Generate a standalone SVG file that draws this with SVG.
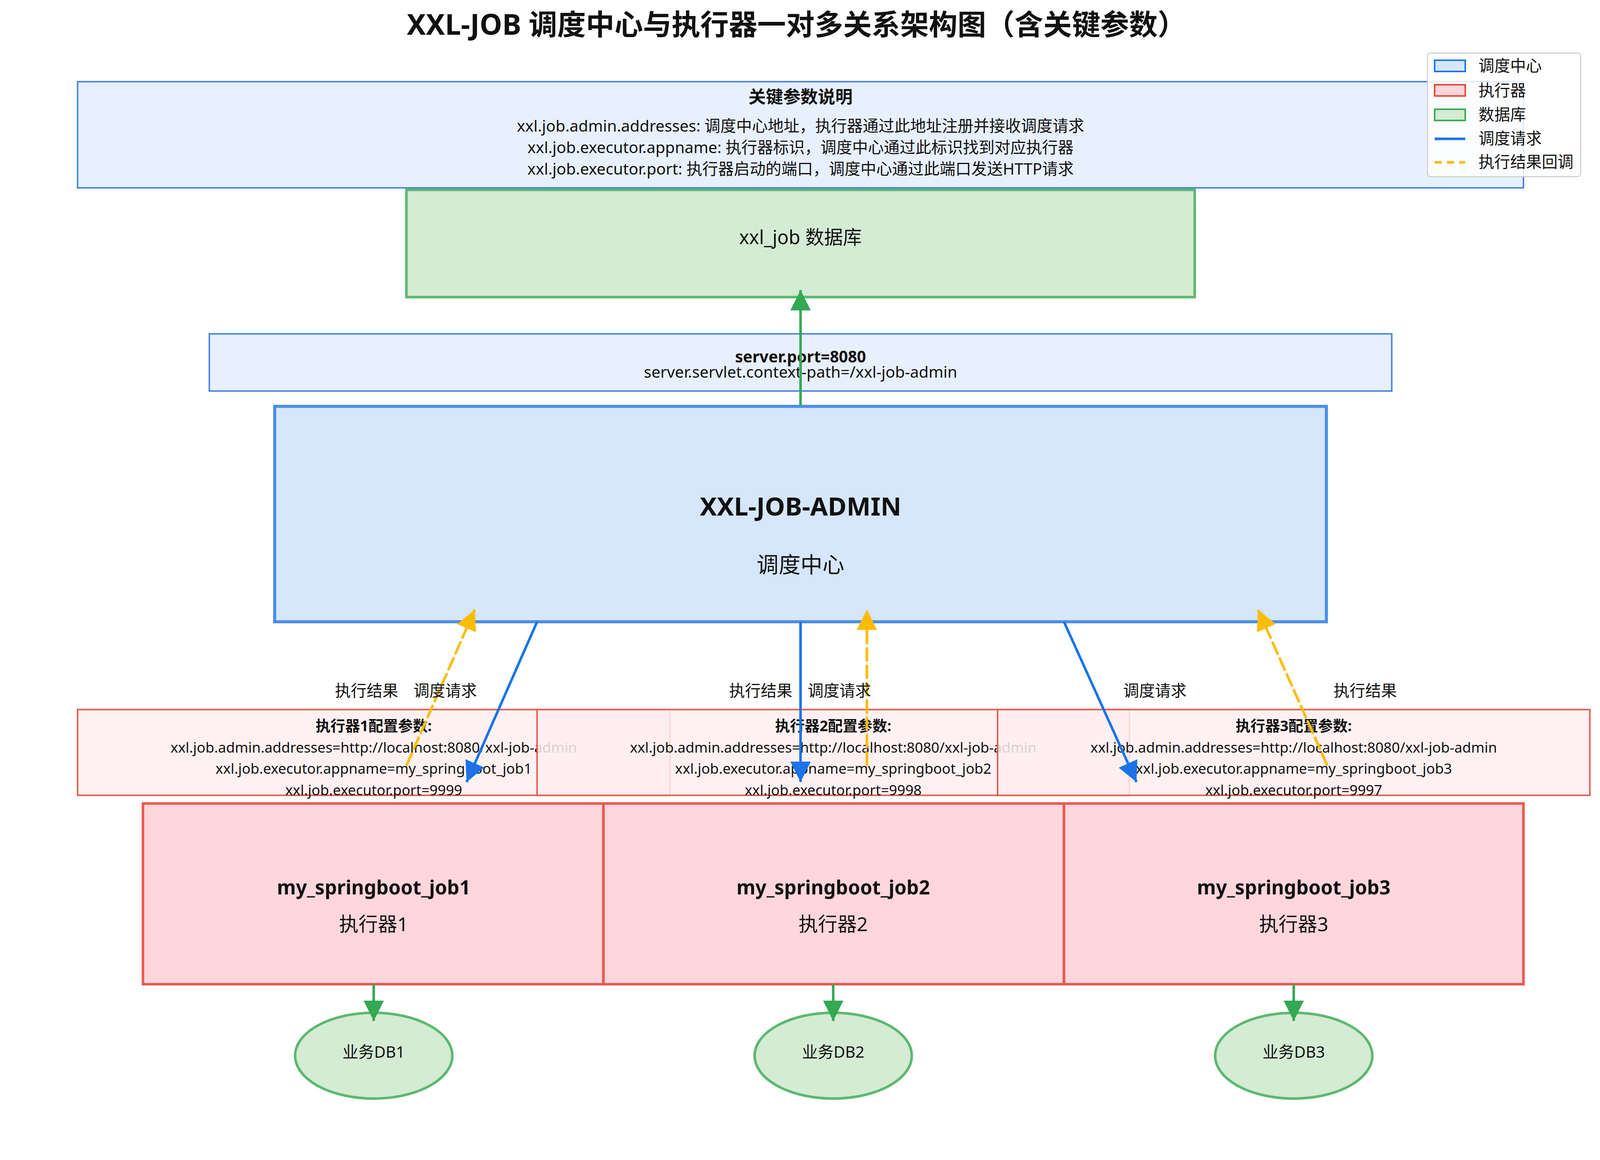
<svg xmlns="http://www.w3.org/2000/svg" width="4170" height="2970" viewBox="0 0 4170 2970">
<defs>
<style>
text{font-family:"Noto Sans","Noto Sans CJK SC",sans-serif;fill:#111;text-anchor:middle}
.b{font-weight:bold}
.cfg{fill:#ffeef0;fill-opacity:0.85;stroke:#ea5a4f;stroke-width:1.5}
.exe{fill:#ffd6dc;stroke:#ea5a4f;stroke-width:2.5}
.dbe{fill:#d4ebd4;stroke:#5cb870;stroke-width:2.5}
.blue{stroke:#1a73e8;stroke-width:2.5;fill:none}
.yel{stroke:#fbbc04;stroke-width:2.5;fill:none;stroke-dasharray:14,3}
.grn{stroke:#34a853;stroke-width:2.5;fill:none}
</style>
<marker id="ab" viewBox="0 0 10 10" refX="10" refY="5" markerWidth="10" markerHeight="8" markerUnits="strokeWidth" orient="auto"><path d="M0,0L10,5L0,10z" fill="#1a73e8"/></marker>
<marker id="ay" viewBox="0 0 10 10" refX="10" refY="5" markerWidth="8" markerHeight="8" markerUnits="strokeWidth" orient="auto"><path d="M0,0L10,5L0,10z" fill="#fbbc04"/></marker>
<marker id="ag" viewBox="0 0 10 10" refX="10" refY="5" markerWidth="8" markerHeight="8" markerUnits="strokeWidth" orient="auto"><path d="M0,0L10,5L0,10z" fill="#34a853"/></marker>
</defs>
<rect width="4170" height="2970" fill="#fff"/>
<g transform="scale(2.614)">
<text x="780" y="34" class="b" font-size="28">XXL-JOB 调度中心与执行器一对多关系架构图（含关键参数）</text>

<g id="params">
<rect x="76" y="80" width="1416" height="104" fill="#e8f0fe" stroke="#4a86e8" stroke-width="1.5"/>
<text x="784" y="101" class="b" font-size="17">关键参数说明</text>
<text x="784" y="129" font-size="15.5">xxl.job.admin.addresses: 调度中心地址，执行器通过此地址注册并接收调度请求</text>
<text x="784" y="150" font-size="15.5">xxl.job.executor.appname: 执行器标识，调度中心通过此标识找到对应执行器</text>
<text x="784" y="171" font-size="15.5">xxl.job.executor.port: 执行器启动的端口，调度中心通过此端口发送HTTP请求</text>
</g>

<g id="legend">
<rect x="1398" y="52" width="150" height="121" fill="#fff" fill-opacity="0.85" stroke="#ccc" stroke-width="1" rx="3"/>
<rect x="1405" y="59" width="30" height="11" fill="#d6e6fb" stroke="#1a73e8" stroke-width="1.5"/>
<text x="1448" y="70" font-size="15.5" style="text-anchor:start">调度中心</text>
<rect x="1405" y="83" width="30" height="11" fill="#ffd6dc" stroke="#ea4335" stroke-width="1.5"/>
<text x="1448" y="94" font-size="15.5" style="text-anchor:start">执行器</text>
<rect x="1405" y="107" width="30" height="11" fill="#d4ebd4" stroke="#34a853" stroke-width="1.5"/>
<text x="1448" y="118" font-size="15.5" style="text-anchor:start">数据库</text>
<line x1="1405" y1="136" x2="1435" y2="136" stroke="#1a73e8" stroke-width="2.5"/>
<text x="1448" y="141" font-size="15.5" style="text-anchor:start">调度请求</text>
<line x1="1405" y1="159" x2="1435" y2="159" stroke="#fbbc04" stroke-width="2.5" stroke-dasharray="7,5"/>
<text x="1448" y="164" font-size="15.5" style="text-anchor:start">执行结果回调</text>
</g>

<g id="xxljob_db">
<rect x="398" y="186" width="772" height="105" fill="#d4ebd4" stroke="#5cb870" stroke-width="2.5"/>
<text x="784" y="239" font-size="18.5">xxl_job 数据库</text>
</g>

<g id="server_cfg">
<rect x="205" y="327" width="1158" height="56" fill="#e8f0fe" stroke="#4a86e8" stroke-width="1.5"/>
<text x="784" y="355" class="b" font-size="15.5">server.port=8080</text>
<text x="784" y="370" font-size="15.5">server.servlet.context-path=/xxl-job-admin</text>
</g>

<g id="admin">
<rect x="269" y="398" width="1030" height="211" fill="#d6e6fb" stroke="#4a8ee8" stroke-width="3"/>
<text x="784" y="505" class="b" font-size="25">XXL-JOB-ADMIN</text>
<text x="784" y="561" font-size="21.5">调度中心</text>
</g>

<g id="cfg1">
<rect x="76" y="695" width="580" height="84" class="cfg"/>
<text x="366" y="716" class="b" font-size="14.5">执行器1配置参数:</text>
<text x="366" y="737" font-size="14">xxl.job.admin.addresses=http://localhost:8080/xxl-job-admin</text>
<text x="366" y="758" font-size="14">xxl.job.executor.appname=my_springboot_job1</text>
<text x="366" y="779" font-size="14">xxl.job.executor.port=9999</text>
</g>
<g id="cfg2">
<rect x="526" y="695" width="580" height="84" class="cfg"/>
<text x="816" y="716" class="b" font-size="14.5">执行器2配置参数:</text>
<text x="816" y="737" font-size="14">xxl.job.admin.addresses=http://localhost:8080/xxl-job-admin</text>
<text x="816" y="758" font-size="14">xxl.job.executor.appname=my_springboot_job2</text>
<text x="816" y="779" font-size="14">xxl.job.executor.port=9998</text>
</g>
<g id="cfg3">
<rect x="977" y="695" width="580" height="84" class="cfg"/>
<text x="1267" y="716" class="b" font-size="14.5">执行器3配置参数:</text>
<text x="1267" y="737" font-size="14">xxl.job.admin.addresses=http://localhost:8080/xxl-job-admin</text>
<text x="1267" y="758" font-size="14">xxl.job.executor.appname=my_springboot_job3</text>
<text x="1267" y="779" font-size="14">xxl.job.executor.port=9997</text>
</g>

<g id="exec1">
<rect x="140" y="787" width="451" height="177" class="exe"/>
<text x="366" y="876" class="b" font-size="19">my_springboot_job1</text>
<text x="366" y="912" font-size="19">执行器1</text>
</g>
<g id="exec2">
<rect x="591" y="787" width="451" height="177" class="exe"/>
<text x="816" y="876" class="b" font-size="19">my_springboot_job2</text>
<text x="816" y="912" font-size="19">执行器2</text>
</g>
<g id="exec3">
<rect x="1042" y="787" width="450" height="177" class="exe"/>
<text x="1267" y="876" class="b" font-size="19">my_springboot_job3</text>
<text x="1267" y="912" font-size="19">执行器3</text>
</g>

<g id="db1"><ellipse cx="366" cy="1034" rx="77" ry="42" class="dbe"/><text x="366" y="1036" font-size="15.5">业务DB1</text></g>
<g id="db2"><ellipse cx="816" cy="1034" rx="77" ry="42" class="dbe"/><text x="816" y="1036" font-size="15.5">业务DB2</text></g>
<g id="db3"><ellipse cx="1267" cy="1034" rx="77" ry="42" class="dbe"/><text x="1267" y="1036" font-size="15.5">业务DB3</text></g>

<g id="connectors">
<line x1="784" y1="397" x2="784" y2="284" class="grn" marker-end="url(#ag)"/>
<line x1="526" y1="609" x2="457" y2="766" class="blue" marker-end="url(#ab)"/>
<line x1="784" y1="609" x2="784" y2="766" class="blue" marker-end="url(#ab)"/>
<line x1="1042" y1="609" x2="1113" y2="766" class="blue" marker-end="url(#ab)"/>
<line x1="398" y1="750" x2="465" y2="597" class="yel" marker-end="url(#ay)"/>
<line x1="849" y1="750" x2="849" y2="597" class="yel" marker-end="url(#ay)"/>
<line x1="1300" y1="750" x2="1232" y2="597" class="yel" marker-end="url(#ay)"/>
<line x1="366" y1="964" x2="366" y2="1000" class="grn" marker-end="url(#ag)"/>
<line x1="816" y1="964" x2="816" y2="1000" class="grn" marker-end="url(#ag)"/>
<line x1="1267" y1="964" x2="1267" y2="1000" class="grn" marker-end="url(#ag)"/>
<text x="359" y="682" font-size="15.5">执行结果</text>
<text x="436" y="682" font-size="15.5">调度请求</text>
<text x="745" y="682" font-size="15.5">执行结果</text>
<text x="822" y="682" font-size="15.5">调度请求</text>
<text x="1131" y="682" font-size="15.5">调度请求</text>
<text x="1337" y="682" font-size="15.5">执行结果</text>
</g>
</g>
</svg>
